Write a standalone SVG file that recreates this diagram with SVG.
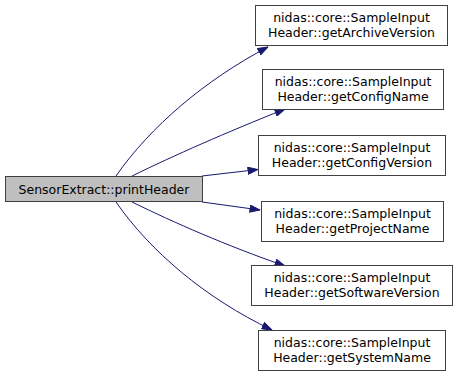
<svg xmlns="http://www.w3.org/2000/svg" width="459" height="377" viewBox="0 0 459 377">
  <style>
    .node rect { fill: #ffffff; stroke: #404040; stroke-width: 1; }
    .node.main rect { fill: #bfbfbf; }
    .node text { font-family: "DejaVu Sans", "Liberation Sans", sans-serif; font-size: 12.5px; fill: #000000; text-anchor: middle; }
    .edges path { fill: none; stroke: #191970; stroke-width: 1; marker-end: url(#arrow); }
  </style>
  <defs>
    <marker id="arrow" viewBox="0 0 11 8" refX="10.5" refY="4" markerWidth="11" markerHeight="8" markerUnits="userSpaceOnUse" orient="auto">
      <path d="M0.5,0.5 L10.5,4 L0.5,7.5 Z" fill="#191970" stroke="#191970" stroke-width="1"/>
    </marker>
  </defs>
  <rect width="459" height="377" fill="#ffffff"/>

  <g class="edges">
    <path d="M116,176 C150,127 205,80 268,47"/>
    <path d="M132,176 C175,155 225,133 285,109"/>
    <path d="M202,176 L258,169.5"/>
    <path d="M202,202 L260,210"/>
    <path d="M132,202 C175,223 225,245 285,266"/>
    <path d="M116,202 C150,251 205,298 272,330"/>
  </g>

  <g id="node-main" class="node main">
    <rect x="5.5" y="176.5" width="197" height="25"/>
    <text x="104" y="193.5">SensorExtract::printHeader</text>
  </g>
  <g id="node-archive-version" class="node">
    <rect x="255.5" y="5.5" width="192" height="40"/>
    <text x="351.5" y="21.5">nidas::core::SampleInput</text>
    <text x="351.5" y="36.5">Header::getArchiveVersion</text>
  </g>
  <g id="node-config-name" class="node">
    <rect x="262.5" y="69.5" width="181" height="40"/>
    <text x="353" y="85.5">nidas::core::SampleInput</text>
    <text x="353" y="100.5">Header::getConfigName</text>
  </g>
  <g id="node-config-version" class="node">
    <rect x="258.5" y="135.5" width="187" height="40"/>
    <text x="352" y="151.5">nidas::core::SampleInput</text>
    <text x="352" y="166.5">Header::getConfigVersion</text>
  </g>
  <g id="node-project-name" class="node">
    <rect x="261.5" y="201.5" width="182" height="40"/>
    <text x="352.5" y="217.5">nidas::core::SampleInput</text>
    <text x="352.5" y="232.5">Header::getProjectName</text>
  </g>
  <g id="node-software-version" class="node">
    <rect x="251.5" y="265.5" width="201" height="40"/>
    <text x="352" y="281.5">nidas::core::SampleInput</text>
    <text x="352" y="296.5">Header::getSoftwareVersion</text>
  </g>
  <g id="node-system-name" class="node">
    <rect x="258.5" y="330.5" width="187" height="40"/>
    <text x="352" y="346.5">nidas::core::SampleInput</text>
    <text x="352" y="361.5">Header::getSystemName</text>
  </g>
</svg>
